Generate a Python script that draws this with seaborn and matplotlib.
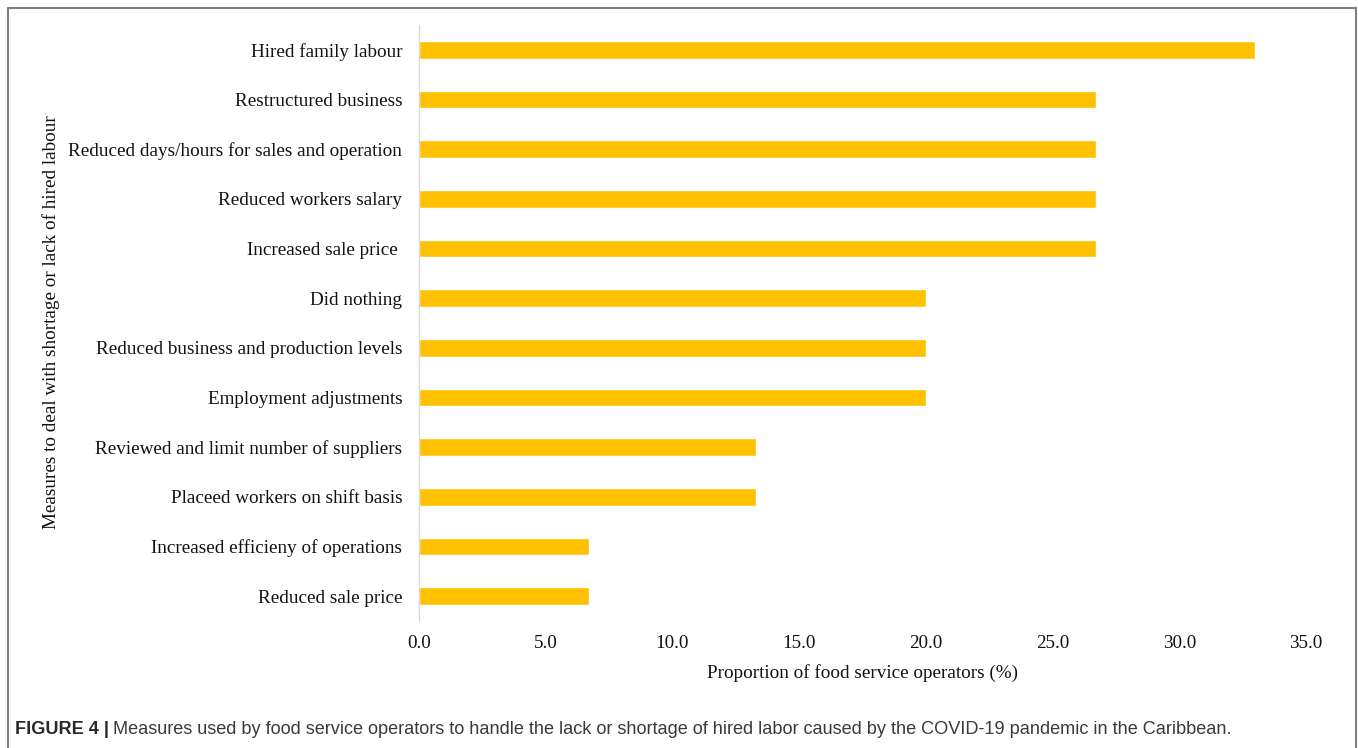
import matplotlib
matplotlib.use("Agg")
import matplotlib.pyplot as plt
import seaborn as sns
import pandas as pd

categories = [
    "Hired family labour",
    "Restructured business",
    "Reduced days/hours for sales and operation",
    "Reduced workers salary",
    "Increased sale price ",
    "Did nothing",
    "Reduced business and production levels",
    "Employment adjustments",
    "Reviewed and limit number of suppliers",
    "Placeed workers on shift basis",
    "Increased efficieny of operations",
    "Reduced sale price",
]
values = [33.0, 26.7, 26.7, 26.7, 26.7, 20.0, 20.0, 20.0, 13.3, 13.3, 6.7, 6.7]
xticks = [0, 5, 10, 15, 20, 25, 30, 35]

sns.set_theme(style="white")
plt.rcParams["font.family"] = ["Liberation Serif", "DejaVu Serif"]

W, H = 1358, 748
FS = 13.8
fig = plt.figure(figsize=(W / 100, H / 100), dpi=100)
ax = fig.add_axes([419 / W, 1 - 621 / H, (1306 - 419) / W, (621 - 25) / H])

df = pd.DataFrame({"cat": categories, "val": values})
sns.barplot(data=df, x="val", y="cat", order=categories, color="#FFC000",
            saturation=1, width=0.36, ax=ax)

ax.set_xlim(0, 35)
ax.set_ylim(11.5, -0.5)
ax.set_xticks(xticks)
ax.set_xticklabels([f"{t:.1f}" for t in xticks], fontsize=FS, color="#111111")
ax.tick_params(axis="y", labelsize=FS, labelcolor="#111111", length=0, pad=12)
ax.tick_params(axis="x", length=0, pad=10)
ax.set_xlabel("Proportion of food service operators (%)", fontsize=FS,
              color="#111111", labelpad=9)
ax.set_ylabel("")
for s in ["top", "right", "bottom"]:
    ax.spines[s].set_visible(False)
ax.spines["left"].set_color("#d9d9d9")
ax.spines["left"].set_linewidth(1.0)
ax.grid(False)

fig.text(51 / W, 1 - 322 / H, "Measures to deal with shortage or lack of hired labour",
         rotation=90, ha="center", va="center", fontsize=FS, color="#111111")

# outer frame (open at the bottom)
for xs, ys in [([8, 8], [748, 8]), ([1356, 1356], [748, 8]), ([8, 1356], [8, 8])]:
    fig.add_artist(plt.Line2D([x / W for x in xs], [1 - y / H for y in ys],
                              transform=fig.transFigure, color="#7f7f7f", lw=1.5))

# caption
CFS = 13.1
t1 = fig.text(15 / W, 1 - 730 / H, "FIGURE 4 |", fontsize=CFS, fontweight="bold",
              family=["Liberation Sans", "DejaVu Sans"], color="#2a2a2a", va="center")
fig.canvas.draw()
bb = t1.get_window_extent()
fig.text((bb.x1 + 4) / W, 1 - 730 / H,
         "Measures used by food service operators to handle the lack or shortage of hired labor caused by the COVID-19 pandemic in the Caribbean.",
         fontsize=CFS, family=["Liberation Sans", "DejaVu Sans"], color="#3a3a3a", va="center")

fig.savefig("out.png", dpi=100)
